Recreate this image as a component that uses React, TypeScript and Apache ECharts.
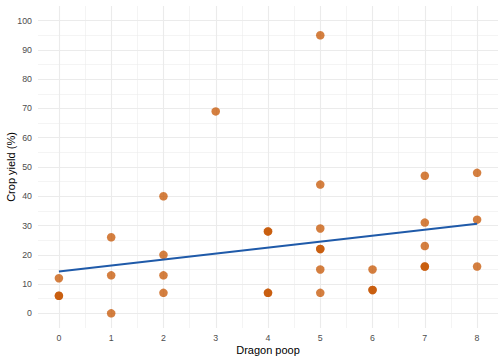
import React, { useEffect, useRef } from "react";
import * as echarts from "echarts";

// Observations (duplicates included; they show as darker dots)
const dragonPoop = [0, 0, 0, 1, 1, 1, 2, 2, 2, 2, 3, 4, 4, 4, 4, 5, 5, 5, 5, 5, 5, 5, 6, 6, 6, 7, 7, 7, 7, 7, 8, 8, 8];
const cropYield = [12, 6, 6, 26, 13, 0, 40, 20, 13, 7, 69, 28, 28, 7, 7, 95, 44, 29, 22, 22, 15, 7, 15, 8, 8, 47, 31, 23, 16, 16, 48, 32, 16];

// Fitted regression line
const fitX = [0, 8];
const fitY = [14.3, 30.6];

const xTicks = [0, 1, 2, 3, 4, 5, 6, 7, 8];
const yTicks = [0, 10, 20, 30, 40, 50, 60, 70, 80, 90, 100];

const FONT = "Liberation Sans, Arial, Helvetica, sans-serif";
const GRID_COLOR = "#EBEBEB";

export default function App() {
  const ref = useRef<HTMLDivElement>(null);
  useEffect(() => {
    if (!ref.current) return;
    const chart = echarts.init(ref.current, null, { renderer: "svg" });
    const points = dragonPoop.map((x, i) => [x, cropYield[i]]);
    const line = fitX.map((x, i) => [x, fitY[i]]);
    chart.setOption({
      animation: false,
      backgroundColor: "#ffffff",
      grid: [
        { left: 38, right: 6, top: 6, bottom: 32 },
        { left: 59, right: 27, top: 6, bottom: 32 },
        { left: 38, right: 6, top: 20.7, bottom: 46.7 },
      ],
      xAxis: [
        { gridIndex: 0, type: "value", min: -0.4, max: 8.4, show: false },
        {
          gridIndex: 1,
          type: "value",
          min: xTicks[0],
          max: xTicks[xTicks.length - 1],
          interval: 1,
          axisLine: { show: false },
          axisTick: { show: false },
          axisLabel: { color: "#4D4D4D", fontSize: 8.8, fontFamily: FONT, margin: 5 },
          splitLine: { show: true, lineStyle: { color: GRID_COLOR, width: 1.1 } },
          minorTick: { show: false, splitNumber: 2 },
          minorSplitLine: { show: true, lineStyle: { color: GRID_COLOR, width: 0.55 } },
        },
        { gridIndex: 2, type: "value", min: 0, max: 1, show: false },
      ],
      yAxis: [
        { gridIndex: 0, type: "value", min: -5, max: 105, show: false },
        { gridIndex: 1, type: "value", min: 0, max: 1, show: false },
        {
          gridIndex: 2,
          type: "value",
          min: yTicks[0],
          max: yTicks[yTicks.length - 1],
          interval: 10,
          axisLine: { show: false },
          axisTick: { show: false },
          axisLabel: { color: "#4D4D4D", fontSize: 8.8, fontFamily: FONT, margin: 6 },
          splitLine: { show: true, lineStyle: { color: GRID_COLOR, width: 1.1 } },
          minorTick: { show: false, splitNumber: 2 },
          minorSplitLine: { show: true, lineStyle: { color: GRID_COLOR, width: 0.55 } },
        },
      ],
      series: [
        {
          type: "scatter",
          xAxisIndex: 0,
          yAxisIndex: 0,
          data: points,
          symbolSize: 8.5,
          itemStyle: { color: "#C65400", opacity: 0.75 },
          z: 3,
        },
        {
          type: "line",
          xAxisIndex: 0,
          yAxisIndex: 0,
          data: line,
          showSymbol: false,
          symbol: "none",
          lineStyle: { color: "#1F5AA9", width: 2 },
          z: 4,
        },
      ],
      graphic: [
        {
          type: "text",
          x: 268,
          y: 350,
          style: {
            text: "Dragon poop",
            font: `11px ${FONT}`,
            fill: "#000000",
            align: "center",
            verticalAlign: "middle",
          },
        },
        {
          type: "text",
          x: 11,
          y: 167,
          rotation: Math.PI / 2,
          style: {
            text: "Crop yield (%)",
            font: `11px ${FONT}`,
            fill: "#000000",
            align: "center",
            verticalAlign: "middle",
          },
        },
      ],
    });
    return () => chart.dispose();
  }, []);
  return <div ref={ref} style={{ width: 504, height: 360, position: "absolute", left: 0, top: 0 }} />;
}
